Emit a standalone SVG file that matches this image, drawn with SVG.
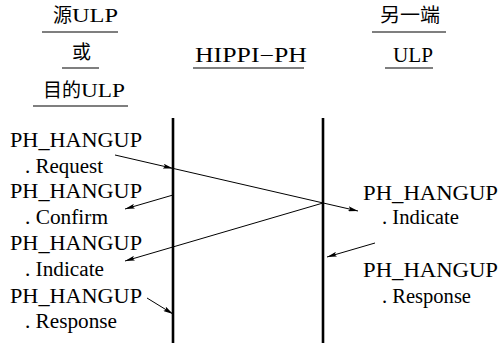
<svg xmlns="http://www.w3.org/2000/svg" width="500" height="346" viewBox="0 0 500 346">
<style>
.u{stroke:#000;stroke-width:1.2}
.life{stroke:#000;stroke-width:2.6}
.c{stroke:#000;stroke-width:1;fill:none;marker-end:url(#ah)}
</style>
<defs>
<marker id="ah" markerUnits="userSpaceOnUse" markerWidth="10" markerHeight="5" refX="10" refY="2.5" orient="auto">
<path d="M0,0 L10,2.5 L0,5 L2,2.5 z" fill="#000"/>
</marker>
</defs>
<g id="source-ulp">
<text x="53" y="22" font-size="19"><tspan font-family="Noto Sans CJK SC">源</tspan><tspan font-family="Liberation Serif" textLength="46" lengthAdjust="spacingAndGlyphs">ULP</tspan></text>
<line class="u" x1="42" y1="32" x2="118" y2="32"/>
<text x="72" y="59" font-size="19" font-family="Noto Sans CJK SC">或</text>
<line class="u" x1="62" y1="68" x2="99" y2="68"/>
<text x="43" y="97" font-size="19"><tspan font-family="Noto Sans CJK SC">目的</tspan><tspan font-family="Liberation Serif" textLength="44" lengthAdjust="spacingAndGlyphs">ULP</tspan></text>
<line class="u" x1="33" y1="106" x2="128" y2="106"/>
<line class="life" x1="173" y1="118" x2="173" y2="343"/>
</g>
<g id="hippi-ph">
<text x="195" y="62" font-size="20" font-family="Liberation Serif" textLength="112" lengthAdjust="spacingAndGlyphs">HIPPI−PH</text>
<line class="u" x1="193" y1="68" x2="304" y2="68"/>
<line class="life" x1="323" y1="118" x2="323" y2="343"/>
</g>
<g id="other-ulp">
<text x="380" y="22" font-size="19" font-family="Noto Sans CJK SC" textLength="60" lengthAdjust="spacingAndGlyphs">另一端</text>
<line class="u" x1="372" y1="32" x2="446" y2="32"/>
<text x="393" y="62" font-size="20" font-family="Liberation Serif" textLength="40" lengthAdjust="spacingAndGlyphs">ULP</text>
<line class="u" x1="385" y1="68" x2="433" y2="68"/>
</g>
<g id="left-labels">
<text x="10" y="147" font-size="20" font-family="Liberation Serif" textLength="132" lengthAdjust="spacingAndGlyphs">PH_HANGUP</text>
<text x="25" y="173" font-size="20" font-family="Liberation Serif" textLength="78" lengthAdjust="spacingAndGlyphs">. Request</text>
<text x="10" y="198" font-size="20" font-family="Liberation Serif" textLength="132" lengthAdjust="spacingAndGlyphs">PH_HANGUP</text>
<text x="25" y="224" font-size="20" font-family="Liberation Serif" textLength="83" lengthAdjust="spacingAndGlyphs">. Confirm</text>
<text x="10" y="250" font-size="20" font-family="Liberation Serif" textLength="132" lengthAdjust="spacingAndGlyphs">PH_HANGUP</text>
<text x="25" y="276" font-size="20" font-family="Liberation Serif" textLength="79" lengthAdjust="spacingAndGlyphs">. Indicate</text>
<text x="10" y="303" font-size="20" font-family="Liberation Serif" textLength="132" lengthAdjust="spacingAndGlyphs">PH_HANGUP</text>
<text x="25" y="328" font-size="20" font-family="Liberation Serif" textLength="92" lengthAdjust="spacingAndGlyphs">. Response</text>
</g>
<g id="right-labels">
<text x="363" y="200" font-size="20" font-family="Liberation Serif" textLength="135" lengthAdjust="spacingAndGlyphs">PH_HANGUP</text>
<text x="382" y="224" font-size="20" font-family="Liberation Serif" textLength="77" lengthAdjust="spacingAndGlyphs">. Indicate</text>
<text x="363" y="277" font-size="20" font-family="Liberation Serif" textLength="135" lengthAdjust="spacingAndGlyphs">PH_HANGUP</text>
<text x="382" y="303" font-size="20" font-family="Liberation Serif" textLength="89" lengthAdjust="spacingAndGlyphs">. Response</text>
</g>
<g id="connectors">
<line class="c" x1="115" y1="155" x2="173" y2="168.4"/>
<line class="c" x1="173" y1="168.4" x2="358" y2="211"/>
<line class="c" x1="173" y1="195" x2="125" y2="209"/>
<line class="c" x1="323" y1="203" x2="125" y2="261"/>
<line class="c" x1="147" y1="298" x2="173" y2="314"/>
<line class="c" x1="375" y1="243" x2="327" y2="257"/>
</g>
</svg>
